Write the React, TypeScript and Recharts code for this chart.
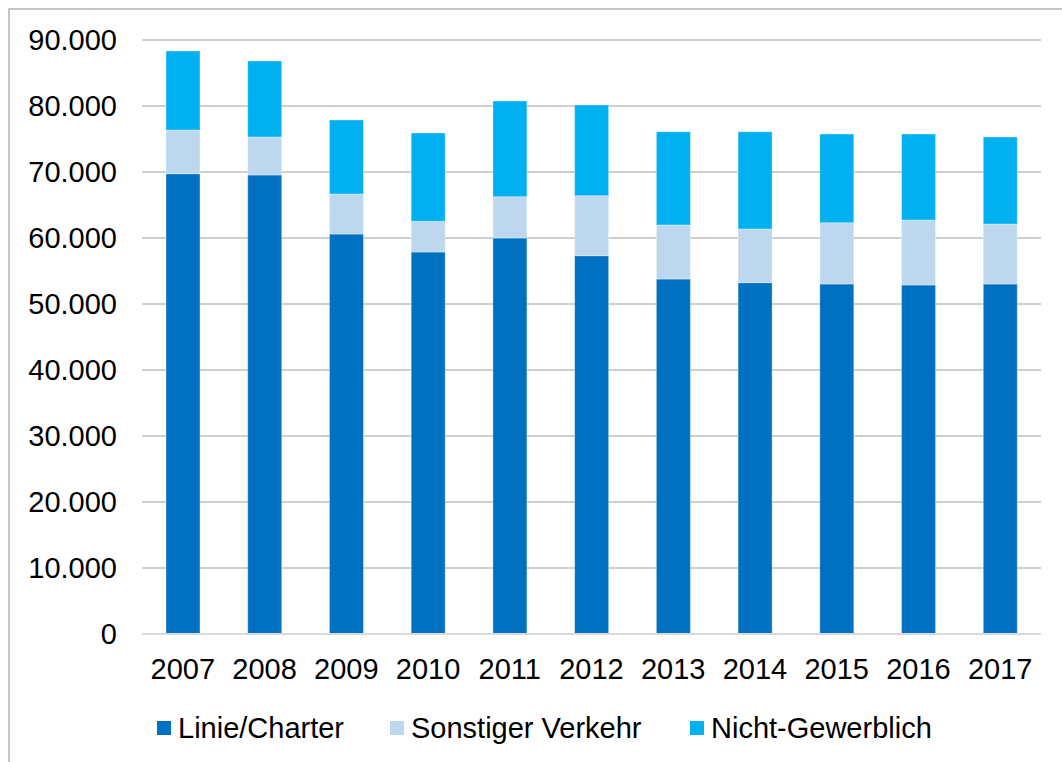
import React from "react";
import { Bar, BarChart, CartesianGrid, Legend, XAxis, YAxis } from "recharts";

const years = ["2007", "2008", "2009", "2010", "2011", "2012", "2013", "2014", "2015", "2016", "2017"];
const linieCharter = [69740, 69550, 60600, 57880, 60000, 57320, 53790, 53230, 53030, 52880, 53030];
const sonstigerVerkehr = [6620, 5750, 6070, 4640, 6260, 9090, 8180, 8130, 9290, 9850, 9090];
const nichtGewerblich = [11970, 11520, 11210, 13390, 14500, 13740, 14130, 14740, 13440, 13030, 13180];
const seriesNames = ["Linie/Charter", "Sonstiger Verkehr", "Nicht-Gewerblich"];
const yTicks = [0, 10000, 20000, 30000, 40000, 50000, 60000, 70000, 80000, 90000];

const data = years.map((year, i) => ({
  year,
  "Linie/Charter": linieCharter[i],
  "Sonstiger Verkehr": sonstigerVerkehr[i],
  "Nicht-Gewerblich": nichtGewerblich[i],
}));

const FONT = "'Liberation Sans', Arial, sans-serif";

// 90000 -> "90.000"
const formatDe = (v: number) => String(v).replace(/\B(?=(\d{3})+(?!\d))/g, ".");

const legendWidths = [233, 300, 320];

function renderLegend(props: any) {
  const payload = [...(props.payload || [])].sort(
    (a: any, b: any) => seriesNames.indexOf(a.value) - seriesNames.indexOf(b.value)
  );
  return (
    <div
      style={{
        display: "flex",
        alignItems: "center",
        height: 48,
        paddingLeft: 157,
        fontFamily: FONT,
        fontSize: 29,
        color: "#000",
      }}
    >
      {payload.map((entry: any, i: number) => (
        <div
          key={entry.value}
          style={{ display: "flex", alignItems: "center", width: legendWidths[i] }}
        >
          <span
            style={{
              display: "inline-block",
              width: 14,
              height: 14,
              background: entry.color,
              marginRight: 7,
            }}
          />
          <span>{entry.value}</span>
        </div>
      ))}
    </div>
  );
}

export default function App() {
  return (
    <div style={{ position: "absolute", top: 0, left: 0, width: 1062, height: 762, background: "#fff" }}>
      <BarChart
        width={1062}
        height={762}
        data={data}
        margin={{ top: 40, right: 21, left: 0, bottom: 0 }}
        barSize={34}
      >
        <CartesianGrid vertical={false} stroke="#BFBFBF" strokeWidth={1.5} />
        <XAxis
          dataKey="year"
          height={70}
          tickLine={false}
          tickSize={0}
          tickMargin={24}
          axisLine={{ stroke: "#D9D9D9", strokeWidth: 2 }}
          tick={{ fill: "#000", fontSize: 29, fontFamily: FONT }}
          interval={0}
        />
        <YAxis
          width={142}
          domain={[0, 90000]}
          ticks={yTicks}
          tickFormatter={formatDe}
          tickLine={false}
          tickSize={0}
          tickMargin={25}
          axisLine={false}
          tick={{ fill: "#000", fontSize: 29, fontFamily: FONT }}
        />
        <Legend
          verticalAlign="bottom"
          height={58}
          content={renderLegend}
          wrapperStyle={{ left: 0, width: 1062 }}
        />
        <Bar
          dataKey="Linie/Charter"
          stackId="a"
          fill="#0070C0"
          stroke="rgba(255,255,255,0.35)"
          strokeWidth={1}
          isAnimationActive={false}
        />
        <Bar
          dataKey="Sonstiger Verkehr"
          stackId="a"
          fill="#BDD7EE"
          stroke="rgba(255,255,255,0.35)"
          strokeWidth={1}
          isAnimationActive={false}
        />
        <Bar
          dataKey="Nicht-Gewerblich"
          stackId="a"
          fill="#00B0F0"
          stroke="rgba(255,255,255,0.35)"
          strokeWidth={1}
          isAnimationActive={false}
        />
      </BarChart>
      <div
        style={{
          position: "absolute",
          left: 8,
          top: 8,
          right: 0,
          bottom: 0,
          borderLeft: "2px solid #C6C6C6",
          borderTop: "2px solid #C6C6C6",
          pointerEvents: "none",
        }}
      />
    </div>
  );
}
